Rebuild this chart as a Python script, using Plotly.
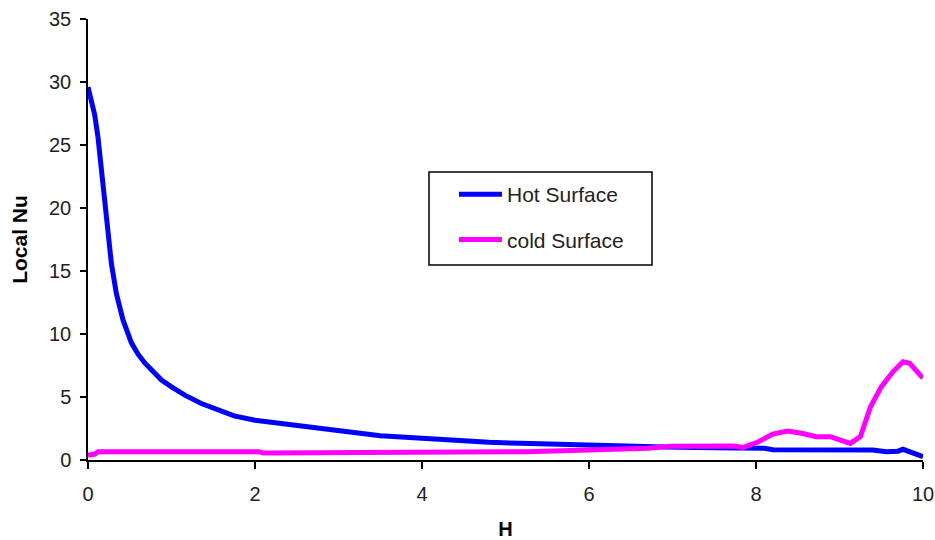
import plotly.graph_objects as go

hot_x = [0, 0.04, 0.08, 0.12, 0.16, 0.2, 0.24, 0.28, 0.34, 0.42, 0.52, 0.6, 0.68, 0.78, 0.88, 1.0,
         1.16, 1.35, 1.55, 1.75, 2.0, 2.35, 2.75, 3.15, 3.5, 4.0, 4.4, 4.8, 5.3, 5.9, 6.3, 6.9,
         7.5, 8.1, 8.2, 8.6, 9.0, 9.4, 9.56, 9.7, 9.76, 9.88, 10]
hot_y = [29.6, 28.6, 27.4, 25.6, 23.0, 20.4, 18.0, 15.6, 13.2, 11.1, 9.3, 8.4, 7.7, 7.0, 6.35, 5.8,
         5.15, 4.5, 3.97, 3.5, 3.15, 2.86, 2.46, 2.14, 1.93, 1.72, 1.53, 1.40, 1.30, 1.17, 1.1, 1.03,
         0.97, 0.93, 0.82, 0.8, 0.8, 0.8, 0.66, 0.7, 0.85, 0.58, 0.26]

cold_x = [0, 0.08, 0.12, 2.05, 2.1, 5.2, 5.25, 6.0, 6.7, 6.97, 7.3, 7.73, 7.85, 8.03, 8.2, 8.38,
          8.56, 8.72, 8.89, 9.0, 9.13, 9.25, 9.37, 9.5, 9.64, 9.76, 9.84, 10]
cold_y = [0.4, 0.45, 0.65, 0.65, 0.55, 0.58, 0.66, 0.79, 0.93, 1.1, 1.12, 1.11, 1.0, 1.45, 2.06, 2.3,
          2.1, 1.85, 1.85, 1.6, 1.32, 1.85, 4.2, 5.8, 7.0, 7.8, 7.67, 6.5]

x_ticks = [0, 2, 4, 6, 8, 10]
y_ticks = [0, 5, 10, 15, 20, 25, 30, 35]

FONT = "Arial, 'Liberation Sans', sans-serif"

# plot-area geometry (pixels) used to place the legend frame
L, R, T, B = 88, 12, 19, 80
PW, PH = 935 - L - R, 540 - T - B

fig = go.Figure()
fig.add_trace(go.Scatter(x=hot_x, y=hot_y, mode="lines", name="Hot Surface",
                         line=dict(color="#0000FF", width=5), legendgroup="a"))
fig.add_trace(go.Scatter(x=cold_x, y=cold_y, mode="lines", name="cold Surface",
                         line=dict(color="#FF00FF", width=5), legendgroup="b"))

# legend frame
fig.add_shape(type="rect", xref="paper", yref="paper",
              x0=(429 - L) / PW, x1=(652 - L) / PW,
              y0=(540 - B - 265) / PH, y1=(540 - B - 172) / PH,
              line=dict(color="black", width=1.5), fillcolor="white", layer="below")

fig.update_layout(
    width=935, height=540,
    margin=dict(l=L, r=R, t=T, b=B),
    paper_bgcolor="white", plot_bgcolor="white",
    font=dict(family=FONT, color="#222", size=20),
    showlegend=True,
    legend=dict(x=(454 - L) / PW, y=(540 - B - 174) / PH, xanchor="left", yanchor="top",
                borderwidth=0, bgcolor="rgba(0,0,0,0)",
                font=dict(size=21, color="#222"), tracegroupgap=15,
                itemwidth=43),
    xaxis=dict(range=[0, 10], tickvals=x_ticks, showgrid=False, zeroline=False,
               showline=True, linecolor="black", linewidth=1.5, automargin=False,
               ticks="outside", ticklen=7, tickcolor="black", tickwidth=1.5,
               ticklabelstandoff=8,
               title=dict(text="<b>H</b>", font=dict(size=20, color="black"), standoff=18)),
    yaxis=dict(range=[0, 35], tickvals=y_ticks, showgrid=False, zeroline=False,
               showline=True, linecolor="black", linewidth=1.5, automargin=False,
               ticks="outside", ticklen=6, tickcolor="black", tickwidth=1.5,
               ticklabelstandoff=5,
               title=dict(text="<b>Local Nu</b>", font=dict(size=21, color="black"), standoff=16)),
)

fig.write_html("out.html")
